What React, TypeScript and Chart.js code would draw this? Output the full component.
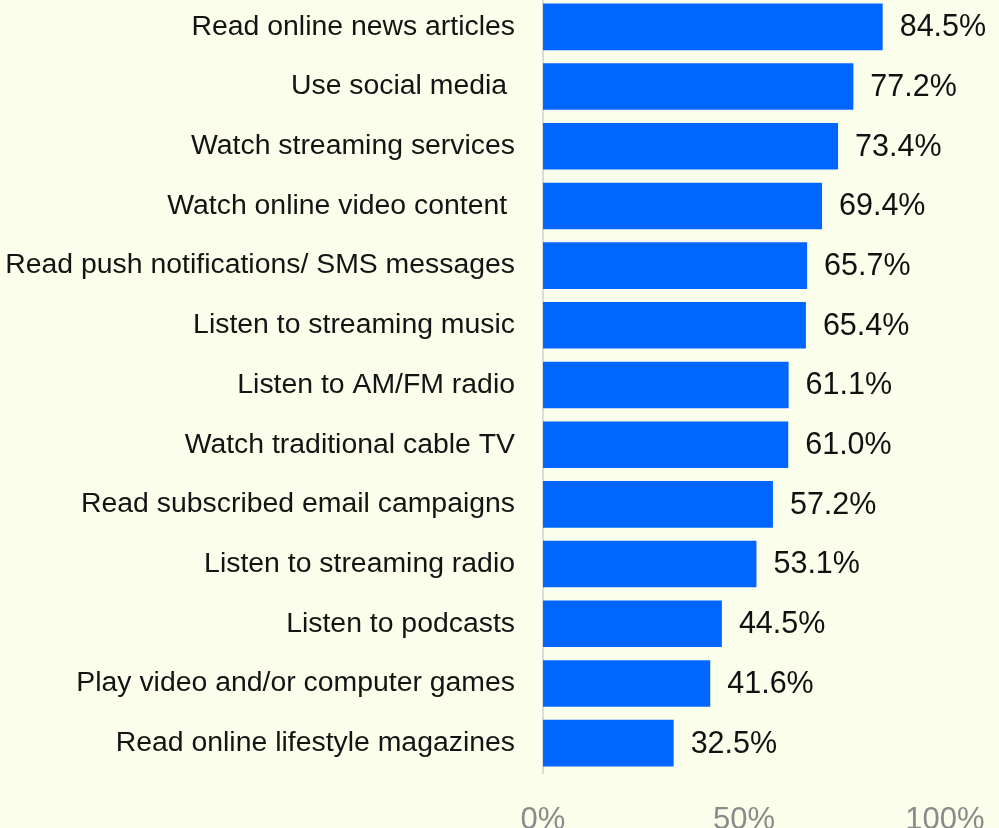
import React, { useEffect, useRef } from "react";
import { Chart, registerables } from "chart.js";

Chart.register(...registerables);

const categories = [
  "Read online news articles",
  "Use social media ",
  "Watch streaming services",
  "Watch online video content ",
  "Read push notifications/ SMS messages",
  "Listen to streaming music",
  "Listen to AM/FM radio",
  "Watch traditional cable TV",
  "Read subscribed email campaigns",
  "Listen to streaming radio",
  "Listen to podcasts",
  "Play video and/or computer games",
  "Read online lifestyle magazines",
];

const values = [84.5, 77.2, 73.4, 69.4, 65.7, 65.4, 61.1, 61.0, 57.2, 53.1, 44.5, 41.6, 32.5];

const xTicks = [0, 50, 100];

const FONT = "'Liberation Sans', Arial, sans-serif";
const BG = "#fcfeec";
const BAR = "#0066ff";

const valueLabels = {
  id: "valueLabels",
  afterDatasetsDraw(chart: any) {
    const ctx = chart.ctx;
    const meta = chart.getDatasetMeta(0);
    ctx.save();
    ctx.font = `30.5px ${FONT}`;
    ctx.fillStyle = "#111111";
    ctx.textAlign = "left";
    ctx.textBaseline = "middle";
    meta.data.forEach((bar: any, i: number) => {
      const v = chart.data.datasets[0].data[i] as number;
      ctx.fillText(v.toFixed(1) + "%", bar.x + 17, bar.y + 1);
    });
    ctx.restore();
  },
};

export default function App() {
  const ref = useRef<HTMLCanvasElement | null>(null);

  useEffect(() => {
    document.body.style.margin = "0";
    document.body.style.background = BG;
    const canvas = ref.current!;
    const chart = new Chart(canvas, {
      type: "bar",
      data: {
        labels: categories,
        datasets: [
          {
            data: values,
            backgroundColor: BAR,
            borderWidth: 0,
            categoryPercentage: 1,
            barPercentage: 0.78,
          },
        ],
      },
      options: {
        indexAxis: "y",
        animation: false,
        responsive: false,
        maintainAspectRatio: false,
        layout: { padding: { left: 0, right: 54, top: 0, bottom: 0 } },
        plugins: {
          legend: { display: false },
          tooltip: { enabled: false },
        },
        scales: {
          x: {
            min: 0,
            max: 100,
            afterBuildTicks(scale: any) {
              scale.ticks = xTicks.map((v) => ({ value: v }));
            },
            afterFit(scale: any) {
              scale.height = 84;
              scale.paddingLeft = 0;
              scale.paddingRight = 0;
            },
            grid: { display: false, drawTicks: false },
            border: { display: false },
            ticks: {
              padding: 29,
              color: "#8a8a8a",
              font: { family: FONT, size: 31 },
              callback: (v: any) => v + "%",
              maxRotation: 0,
            },
          },
          y: {
            afterFit(scale: any) {
              scale.width = 543;
              scale.paddingTop = 0;
              scale.paddingBottom = 0;
            },
            grid: { display: false, drawTicks: false },
            border: { display: true, color: "#dcdcd6", width: 2 },
            ticks: {
              padding: 28,
              color: "#141414",
              font: { family: FONT, size: 28.4 },
              autoSkip: false,
            },
          },
        },
      },
      plugins: [valueLabels],
    });
    return () => chart.destroy();
  }, []);

  return (
    <div style={{ position: "absolute", left: 0, top: 0, width: 999, height: 828, overflow: "hidden", background: BG }}>
      <canvas
        ref={ref}
        width={999}
        height={860}
        style={{ position: "absolute", left: 0, top: -3, width: 999, height: 860 }}
      />
    </div>
  );
}
